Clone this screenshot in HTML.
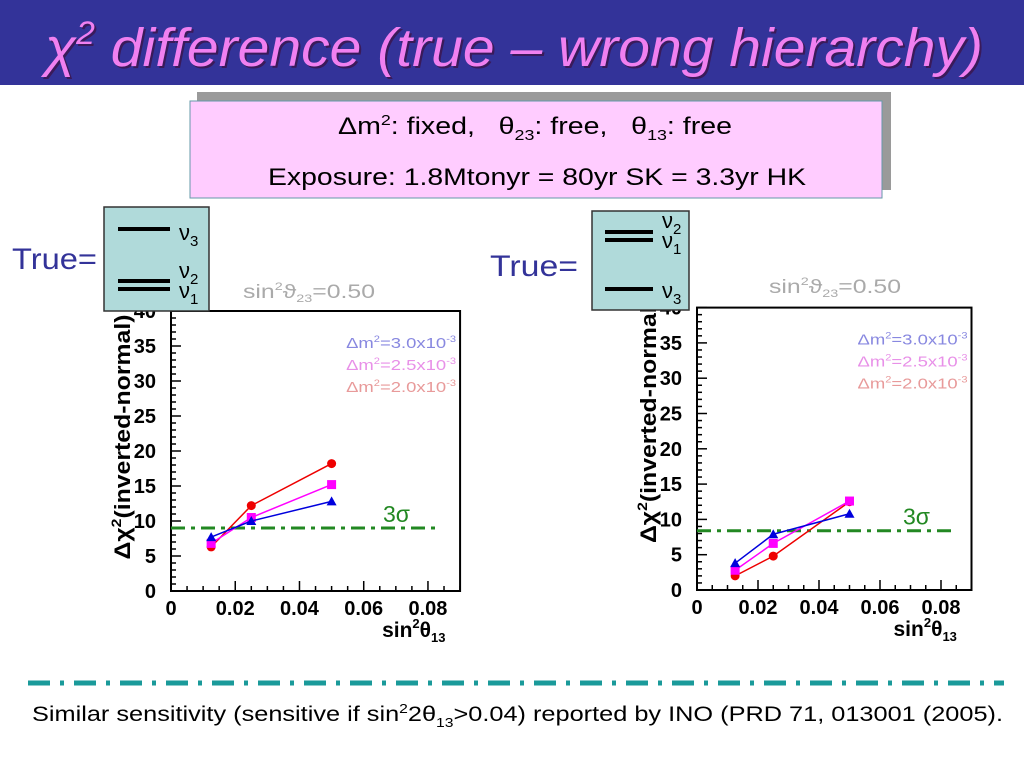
<!DOCTYPE html>
<html><head><meta charset="utf-8"><style>
html,body{margin:0;padding:0;background:#fff;}
svg{display:block;font-family:"Liberation Sans",sans-serif;}
</style></head><body>
<svg id="s" width="1024" height="768" viewBox="0 0 1024 768" xmlns="http://www.w3.org/2000/svg">
<rect x="0" y="0" width="1024" height="85" fill="#333399"/>
<text x="47" y="68" font-size="54" font-style="italic" fill="#3a1a5a" textLength="938" lengthAdjust="spacingAndGlyphs">χ<tspan font-size="32" dy="-22">2</tspan><tspan dy="22"> difference (true – wrong hierarchy)</tspan></text>
<text x="45" y="66" font-size="54" font-style="italic" fill="#f080f0" textLength="938" lengthAdjust="spacingAndGlyphs">χ<tspan font-size="32" dy="-22">2</tspan><tspan dy="22"> difference (true – wrong hierarchy)</tspan></text>
<rect x="197" y="92" width="694" height="98" fill="#9a9a9a"/>
<rect x="190" y="101" width="692" height="97" fill="#ffccff" stroke="#6699aa" stroke-width="1"/>
<text x="338" y="134" font-size="24" fill="#000" textLength="394" lengthAdjust="spacingAndGlyphs" xml:space="preserve">Δm<tspan font-size="15" dy="-9">2</tspan><tspan dy="9">: fixed,   θ</tspan><tspan font-size="15" dy="6">23</tspan><tspan dy="-6">: free,   θ</tspan><tspan font-size="15" dy="6">13</tspan><tspan dy="-6">: free</tspan></text>
<text x="268" y="185" font-size="24" fill="#000" textLength="538" lengthAdjust="spacingAndGlyphs">Exposure: 1.8Mtonyr = 80yr SK = 3.3yr HK</text>
<g id="plots"></g>
<line x1="28" y1="683" x2="1004" y2="683" stroke="#1a9a9a" stroke-width="5" stroke-dasharray="22,10,4,10"/>
<text x="32" y="721" font-size="21" fill="#000" textLength="971" lengthAdjust="spacingAndGlyphs">Similar sensitivity (sensitive if sin<tspan font-size="13" dy="-8">2</tspan><tspan dy="8">2θ</tspan><tspan font-size="13" dy="6">13</tspan><tspan dy="-6">&gt;0.04) reported by INO (PRD 71, 013001 (2005).</tspan></text>
</svg>
<script>
var g=document.getElementById('plots'),h='';
function plot(o){
 var X=function(v){return o.x0+v*o.sx},Y=function(d){return o.y0-d*o.sy};
 var L=X(0),R=X(0.09),T=Y(40),B=Y(0);
 h+='<text x="'+(L+72)+'" y="'+(o.tt)+'" font-size="19" fill="#aaa" textLength="132" lengthAdjust="spacingAndGlyphs">sin<tspan font-size="11" dy="-8">2</tspan><tspan dy="8">ϑ</tspan><tspan font-size="11" dy="4">23</tspan><tspan dy="-4">=0.50</tspan></text>';
 h+='<rect x="'+L+'" y="'+T+'" width="'+(R-L)+'" height="'+(B-T)+'" fill="#fff" stroke="#000" stroke-width="2"/>';
 for(var d=0;d<=40;d++){var y=Y(d),len=d%5?5:10;h+='<line x1="'+L+'" y1="'+y+'" x2="'+(L+len)+'" y2="'+y+'" stroke="#000" stroke-width="1.5"/>';
  if(d%5==0)h+='<text x="'+(L-15)+'" y="'+(y+7)+'" text-anchor="end" font-size="20" font-weight="bold">'+d+'</text>';}
 for(var i=0;i<=18;i++){var v=i*0.005,x=X(v),len=i%4?5:10;h+='<line x1="'+x+'" y1="'+B+'" x2="'+x+'" y2="'+(B-len)+'" stroke="#000" stroke-width="1.5"/>';}
 var lb=['0','0.02','0.04','0.06','0.08'];for(var k=0;k<5;k++)h+='<text x="'+X(k*0.02)+'" y="'+(B+24)+'" text-anchor="middle" font-size="20" font-weight="bold">'+lb[k]+'</text>';
 h+='<text x="'+(R-78)+'" y="'+(B+46)+'" font-size="21" font-weight="bold">sin<tspan font-size="13" dy="-9">2</tspan><tspan dy="9">θ</tspan><tspan font-size="13" dy="5">13</tspan></text>';
 h+='<text transform="translate('+(L-41)+','+Y(o.yc)+') rotate(-90)" text-anchor="middle" font-size="22" font-weight="bold" textLength="245" lengthAdjust="spacingAndGlyphs">Δχ<tspan font-size="14" dy="-9">2</tspan><tspan dy="9">(inverted-normal)</tspan></text>';
 var lc=['#8888e0','#e890e8','#e89a9a'],lt=['3.0','2.5','2.0'];
 for(var k=0;k<3;k++)h+='<text x="'+(R-114)+'" y="'+(T+o.ly+k*22)+'" font-size="15" fill="'+lc[k]+'" textLength="110" lengthAdjust="spacingAndGlyphs">Δm<tspan font-size="9" dy="-6">2</tspan><tspan dy="6">='+lt[k]+'x10</tspan><tspan font-size="9" dy="-6">-3</tspan></text>';
 h+='<line x1="'+L+'" y1="'+Y(o.sig)+'" x2="'+o.sigEnd+'" y2="'+Y(o.sig)+'" stroke="#228822" stroke-width="3" stroke-dasharray="14,6,4,6"/>';
 h+='<text x="'+o.sx3+'" y="'+(Y(o.sig)-6)+'" font-size="23" fill="#228822">3σ</text>';
 var xs=[0.0125,0.025,0.05],cols=['#ee0000','#ff00ff','#0000dd'];
 for(var s=0;s<3;s++){var pts=o.d[s].map(function(d,i){return X(xs[i])+','+Y(d)}).join(' ');
  h+='<polyline points="'+pts+'" fill="none" stroke="'+cols[s]+'" stroke-width="1.5"/>';
  o.d[s].forEach(function(d,i){var x=X(xs[i]),y=Y(d);
   if(s==0)h+='<circle cx="'+x+'" cy="'+y+'" r="4.5" fill="'+cols[s]+'"/>';
   else if(s==1)h+='<rect x="'+(x-4.5)+'" y="'+(y-4.5)+'" width="9" height="9" fill="'+cols[s]+'"/>';
   else h+='<polygon points="'+x+','+(y-5)+' '+(x-5)+','+(y+4)+' '+(x+5)+','+(y+4)+'" fill="'+cols[s]+'"/>';});}
}
plot({x0:171,sx:3212,y0:591,sy:7,tt:298,ly:37,sig:9,sigEnd:436,sx3:383,yc:22,d:[[6.3,12.2,18.2],[6.8,10.5,15.2],[7.7,10,12.8]]});
plot({x0:697,sx:3050,y0:590,sy:7.06,tt:293,ly:37,sig:8.4,sigEnd:953,sx3:903,yc:24,d:[[2,4.8,12.5],[2.8,6.6,12.6],[3.8,7.9,10.8]]});
h+='<text x="12" y="269" font-size="30" fill="#333399" textLength="85" lengthAdjust="spacingAndGlyphs">True=</text>';
h+='<text x="490" y="276" font-size="30" fill="#333399" textLength="88" lengthAdjust="spacingAndGlyphs">True=</text>';
h+='<rect x="104" y="207" width="105" height="104" fill="#b0dada" stroke="#333" stroke-width="1.5"/>';
h+='<line x1="118" y1="229" x2="170" y2="229" stroke="#000" stroke-width="4"/>';
h+='<line x1="118" y1="281" x2="170" y2="281" stroke="#000" stroke-width="4"/><line x1="118" y1="289" x2="170" y2="289" stroke="#000" stroke-width="4"/>';
h+='<text x="179" y="240" font-size="22">ν<tspan font-size="15" dy="6">3</tspan></text>';
h+='<text x="179" y="278" font-size="22">ν<tspan font-size="15" dy="6">2</tspan></text>';
h+='<text x="179" y="298" font-size="22">ν<tspan font-size="15" dy="6">1</tspan></text>';
h+='<rect x="592" y="211" width="97" height="99" fill="#b0dada" stroke="#333" stroke-width="1.5"/>';
h+='<line x1="605" y1="232" x2="653" y2="232" stroke="#000" stroke-width="4"/><line x1="605" y1="240" x2="653" y2="240" stroke="#000" stroke-width="4"/>';
h+='<line x1="605" y1="289" x2="653" y2="289" stroke="#000" stroke-width="4"/>';
h+='<text x="662" y="228" font-size="22">ν<tspan font-size="15" dy="6">2</tspan></text>';
h+='<text x="662" y="248" font-size="22">ν<tspan font-size="15" dy="6">1</tspan></text>';
h+='<text x="662" y="298" font-size="22">ν<tspan font-size="15" dy="6">3</tspan></text>';
g.innerHTML=h;
</script>
</body></html>
